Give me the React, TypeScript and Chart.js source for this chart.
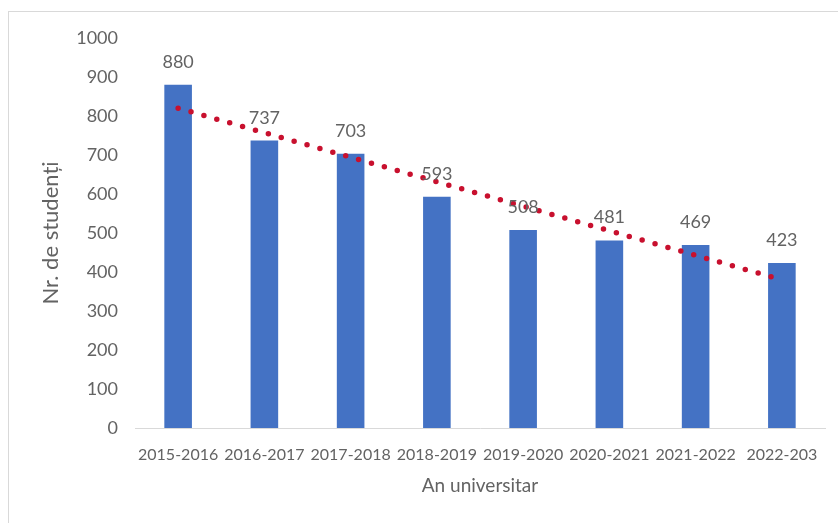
import React, { useEffect, useRef } from "react";
import { Chart, registerables } from "chart.js";

Chart.register(...registerables);

const categories = [
  "2015-2016",
  "2016-2017",
  "2017-2018",
  "2018-2019",
  "2019-2020",
  "2020-2021",
  "2021-2022",
  "2022-203",
];
const students = [880, 737, 703, 593, 508, 481, 469, 423];
const trendEnds = [820, 380];
const yTicks = [0, 100, 200, 300, 400, 500, 600, 700, 800, 900, 1000];

const FONT = "Lato, 'Open Sans', sans-serif";
const TEXT = "#636363";

const framePlugin = {
  id: "frame",
  beforeDraw(chart: any) {
    const ctx = chart.ctx;
    ctx.save();
    ctx.fillStyle = "#ffffff";
    ctx.fillRect(0, 0, chart.width, chart.height);
    ctx.strokeStyle = "#d9d9d9";
    ctx.lineWidth = 1;
    ctx.strokeRect(8.5, 11.5, chart.width, chart.height);
    ctx.restore();
  },
};

const labelPlugin = {
  id: "barLabels",
  afterDatasetsDraw(chart: any) {
    const ctx = chart.ctx;
    const meta = chart.getDatasetMeta(0);
    ctx.save();
    ctx.fillStyle = TEXT;
    ctx.font = `18px ${FONT}`;
    ctx.textAlign = "center";
    ctx.textBaseline = "alphabetic";
    meta.data.forEach((bar: any, i: number) => {
      ctx.fillText(String(students[i]), bar.x, bar.y - 17);
    });
    ctx.restore();
  },
};

export default function App() {
  const ref = useRef<HTMLCanvasElement | null>(null);

  useEffect(() => {
    if (!ref.current) return;
    const chart = new Chart(ref.current, {
      type: "bar",
      data: {
        labels: categories,
        datasets: [
          {
            type: "bar",
            data: students,
            backgroundColor: "#4472C4",
            categoryPercentage: 1,
            barPercentage: 0.32,
            order: 2,
          },
          {
            type: "line",
            data: [
              { x: categories[0], y: trendEnds[0] },
              { x: categories[categories.length - 1], y: trendEnds[1] },
            ] as any,
            borderColor: "#c8102e",
            borderWidth: 5.5,
            borderDash: [0, 13.4],
            borderCapStyle: "round",
            pointRadius: 0,
            fill: false,
            order: 1,
          } as any,
        ],
      },
      options: {
        animation: false,
        responsive: false,
        devicePixelRatio: 1,
        layout: { padding: { left: 8, right: 13, top: 38, bottom: 0 } },
        plugins: {
          legend: { display: false },
          tooltip: { enabled: false },
        },
        scales: {
          x: {
            grid: { display: false, drawTicks: false },
            border: { display: true, color: "#d9d9d9", width: 1 },
            ticks: {
              color: TEXT,
              font: { family: FONT, size: 16 },
              padding: 17,
              maxRotation: 0,
              autoSkip: false,
            },
            title: {
              display: true,
              text: "An universitar",
              color: TEXT,
              font: { family: FONT, size: 19 },
              padding: { top: 0, bottom: 26 },
            },
            afterFit(scale: any) {
              scale.height = 95;
            },
          },
          y: {
            min: 0,
            max: 1000,
            grid: { display: false, drawTicks: false },
            border: { display: false },
            afterBuildTicks(scale: any) {
              scale.ticks = yTicks.map((v) => ({ value: v }));
            },
            ticks: {
              color: TEXT,
              font: { family: FONT, size: 18 },
              padding: 17,
              callback: (v: any) => String(v),
            },
            title: {
              display: true,
              text: "Nr. de studenți",
              color: TEXT,
              font: { family: FONT, size: 22 },
              padding: { top: 30, bottom: 0 },
            },
            afterFit(scale: any) {
              scale.width = 127;
            },
          },
        },
      },
      plugins: [framePlugin, labelPlugin],
    });
    return () => chart.destroy();
  }, []);

  return (
    <div style={{ position: "fixed", left: 0, top: 0, width: 838, height: 523 }}>
      <canvas ref={ref} width={838} height={523} style={{ display: "block" }} />
    </div>
  );
}
